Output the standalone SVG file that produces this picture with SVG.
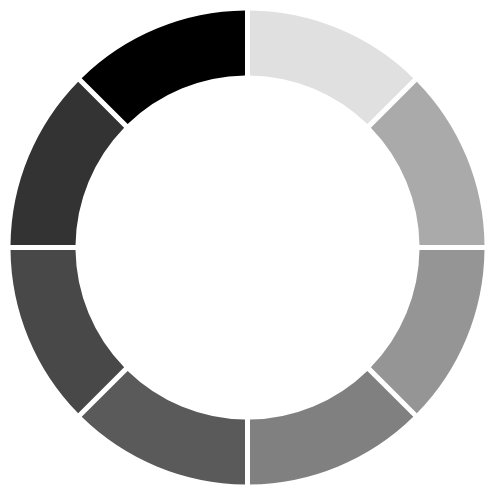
<svg xmlns="http://www.w3.org/2000/svg" xmlns:xlink="http://www.w3.org/1999/xlink" width="500" height="500" viewBox="0 0 500 500">
<defs>
<path id="seg" d="M250,10.514 A237,237 0 0 1 413.309,78.158 L367.342,124.122 A172,172 0 0 0 250,75.518 Z"/>
</defs>
<rect width="500" height="500" fill="#ffffff"/>
<g id="ring">
<g id="seg1"><use xlink:href="#seg" href="#seg" fill="#e0e0e0"/></g>
<g id="seg2"><use xlink:href="#seg" href="#seg" fill="#aaaaaa" transform="rotate(45 247.5 247.5)"/></g>
<g id="seg3"><use xlink:href="#seg" href="#seg" fill="#959595" transform="rotate(90 247.5 247.5)"/></g>
<g id="seg4"><use xlink:href="#seg" href="#seg" fill="#808080" transform="rotate(135 247.5 247.5)"/></g>
<g id="seg5"><use xlink:href="#seg" href="#seg" fill="#5a5a5a" transform="rotate(180 247.5 247.5)"/></g>
<g id="seg6"><use xlink:href="#seg" href="#seg" fill="#484848" transform="rotate(225 247.5 247.5)"/></g>
<g id="seg7"><use xlink:href="#seg" href="#seg" fill="#333333" transform="rotate(270 247.5 247.5)"/></g>
<g id="seg8"><use xlink:href="#seg" href="#seg" fill="#000000" transform="rotate(315 247.5 247.5)"/></g>
</g>
</svg>
